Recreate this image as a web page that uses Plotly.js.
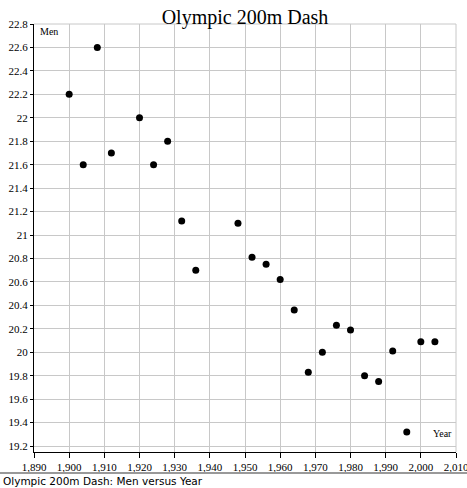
<!DOCTYPE html>
<html>
<head>
<meta charset="utf-8">
<script src="https://cdn.plot.ly/plotly-3.0.1.min.js"></script>
<style>html,body{margin:0;padding:0;background:#fff;}#chart{width:467px;height:488px;}</style>
</head>
<body>
<div id="chart"></div>
<script>
const years = [1900, 1904, 1908, 1912, 1920, 1924, 1928, 1932, 1936, 1948, 1952, 1956, 1960, 1964, 1968, 1972, 1976, 1980, 1984, 1988, 1992, 1996, 2000, 2004];
const menTimes = [22.2, 21.6, 22.6, 21.7, 22.0, 21.6, 21.8, 21.12, 20.7, 21.1, 20.81, 20.75, 20.62, 20.36, 19.83, 20.0, 20.23, 20.19, 19.8, 19.75, 20.01, 19.32, 20.09, 20.09];
const xTicks = [1890, 1900, 1910, 1920, 1930, 1940, 1950, 1960, 1970, 1980, 1990, 2000, 2010];
const chartTitle = "Olympic 200m Dash";
const caption = "Olympic 200m Dash: Men versus Year";
const xLabel = "Year";
const yLabel = "Men";

const serif = "Liberation Serif, Times New Roman, serif";
const xr = [1890, 2010];
const yr = [19.149, 22.8];

const data = [{
  x: years, y: menTimes, type: 'scatter', mode: 'markers',
  marker: {color: '#000', size: 7}, hoverinfo: 'x+y', showlegend: false
}];

const layout = {
  width: 467, height: 488,
  margin: {l: 34, r: 11, t: 24, b: 36, pad: 0},
  paper_bgcolor: '#fff', plot_bgcolor: '#fff',
  font: {family: serif, size: 11, color: '#000'},
  title: {text: chartTitle, font: {family: serif, size: 20, color: '#000'},
          x: 0.5, xref: 'paper', xanchor: 'center', y: 1 - 17/488, yref: 'container', yanchor: 'middle'},
  xaxis: {range: xr, tickmode: 'array', tickvals: xTicks, tickformat: ',d', ticklabeloverflow: 'allow',
          showgrid: true, gridcolor: '#c8c8c8', gridwidth: 1, zeroline: false,
          showline: true, linecolor: '#000', linewidth: 1,
          ticks: 'outside', ticklen: 5, tickcolor: '#000', tickfont: {family: serif, size: 11}},
  yaxis: {range: yr, dtick: 0.2, tick0: 19.2,
          showgrid: true, gridcolor: '#c8c8c8', gridwidth: 1, zeroline: false,
          showline: true, linecolor: '#000', linewidth: 1,
          ticks: 'outside', ticklen: 3, tickcolor: '#000', tickfont: {family: serif, size: 11}},
  xaxis2: {range: xr, tickmode: 'array', tickvals: xTicks, overlaying: 'x', anchor: 'y', side: 'bottom',
           showgrid: false, zeroline: false, showline: false, showticklabels: false,
           ticks: 'inside', ticklen: 3, tickcolor: '#000'},
  yaxis2: {range: yr, dtick: 0.2, tick0: 19.2, overlaying: 'y', anchor: 'x', side: 'left',
           showgrid: false, zeroline: false, showline: false, showticklabels: false,
           ticks: 'inside', ticklen: 3, tickcolor: '#000'},
  shapes: [
    {type: 'line', xref: 'paper', yref: 'paper', x0: 0, x1: 1, y0: 1, y1: 1, line: {color: '#c8c8c8', width: 1}},
    {type: 'line', xref: 'paper', yref: 'paper', x0: 1, x1: 1, y0: 0, y1: 1, line: {color: '#c8c8c8', width: 1}},
    {type: 'line', xref: 'paper', yref: 'paper', x0: -0.1, x1: 1.05, y0: -(473-452)/428, y1: -(473-452)/428, line: {color: '#999', width: 2}}
  ],
  annotations: [
    {text: yLabel, x: 1891, y: 22.8, xref: 'x', yref: 'y', xanchor: 'left', yanchor: 'top',
     showarrow: false, font: {family: serif, size: 10, color: '#000'}},
    {text: xLabel, x: 2009.5, y: 19.31, xref: 'x', yref: 'y', xanchor: 'right', yanchor: 'middle',
     showarrow: false, font: {family: serif, size: 10, color: '#000'}},
    {text: caption, x: -33/422, y: -(481-452)/428, xref: 'paper', yref: 'paper', xanchor: 'left', yanchor: 'middle',
     showarrow: false, font: {family: 'DejaVu Sans, sans-serif', size: 10.5, color: '#000'}}
  ]
};

Plotly.newPlot('chart', data, layout, {displayModeBar: false, staticPlot: true});
</script>
</body>
</html>
